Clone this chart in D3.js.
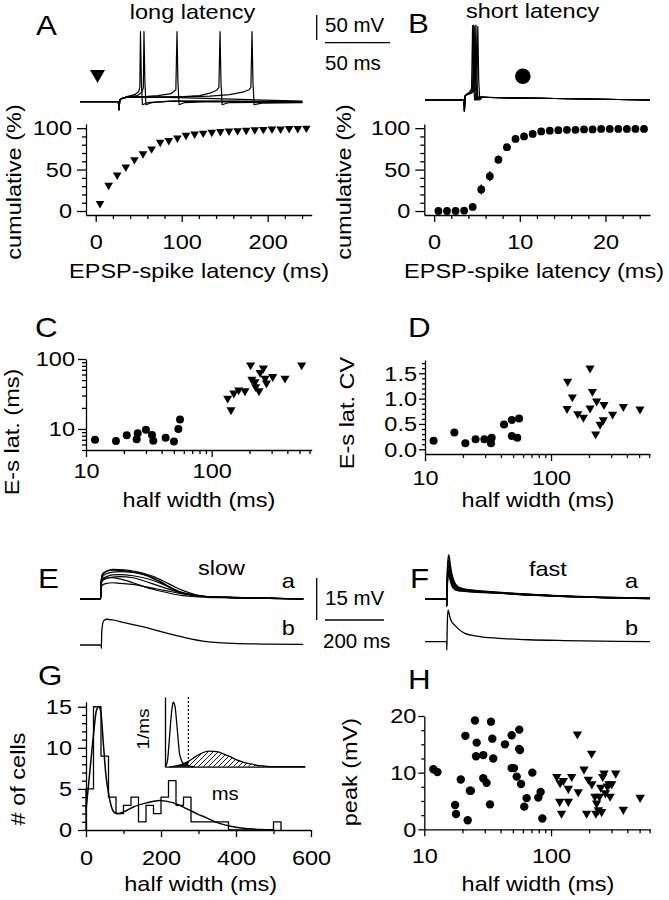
<!DOCTYPE html>
<html><head><meta charset="utf-8">
<script src="https://cdn.jsdelivr.net/npm/d3@7"></script>
<style>
body{margin:0;background:#fff}
svg{display:block;background:#fff}
text{font-family:"Liberation Sans",Arial,Helvetica,sans-serif;fill:#000}
</style></head>
<body><svg id="c" width="669" height="900"></svg>
<script>
// ---------------- DATA ----------------
// A: cumulative EPSP-spike latency, long-latency cells
const latA_x = [5,15,25,35,45,55,65,75,85,95,105,115,125,135,145,155,165,175,185,195,205,215,225,235,245];
const latA_y = [9,31,43.5,53,62,69,75,83,85,88,91.5,93,94,95,96,96.5,97,97.5,98,98.5,99,99,99.5,99.5,100];
// B: cumulative latency, short-latency cells
const latB_x = [0.5,1.5,2.5,3.5,4.5,5.5,6.5,7.5,8.5,9.5,10.5,11.5,12.5,13.5,14.5,15.5,16.5,17.5,18.5,19.5,20.5,21.5,22.5,23.5,24.5];
const latB_y = [0,0,0,0.5,5,26,42,62,77,87,90,93,96,97,97.5,98,98,98.5,98.5,99,99,99,99,99,99];
const latB_err = [0,0,0,0,1,6,6,5,4,2,1,1,0,0,0,0,0,0,0,0,0,0,0,0,0];
// C: E-s latency vs half width
const cFastX = [11.8,17.3,21.1,25.3,25.8,30,33.5,34.3,43,50.1,54.3,56];
const cFastY = [7.0,6.7,8.1,7.1,8.7,9.7,8.2,6.8,7.5,6.6,10,13.6];
const cSlowX = [134,142.5,150,164,184,204,209,221,224,238,243,258,266,273,306,383,520];
const cSlowY = [27.4,18.7,32.4,36,35,82,51,47,40,35,64,74,53,45,56,53,82];
// D: E-s latency CV vs half width
const dFastX = [11.7,17.1,20.9,25.2,29.6,33.4,33.8,42.4,48.8,48.8,54,55.8];
const dFastY = [0.17,0.33,0.12,0.2,0.2,0.12,0.23,0.49,0.58,0.26,0.23,0.61];
const dSlowX = [135.5,147.6,134,163,180.7,204,213,204,230,226,245,260,263,308,375,508];
const dSlowY = [1.34,1.03,0.80,0.70,0.63,1.60,1.14,0.81,0.95,0.30,0.49,0.58,0.88,0.69,0.84,0.79];
// G: histogram of half widths (20 ms bins) and fitted curve
const histBins = [0,20,40,60,80,100,120,140,160,180,200,220,240,260,280,300,320,340,360,380,400,420,440,460,480,500,520];
const histCounts = [5,15,9,4,2,3,4,1,3,2,4,6,3,4,1,1,1,1,1,0,0,0,0,0,0,1];
const gCurveX = [0,10,20,28,34,40,46,53,61,68,77,86,100,126,162,197,233,268,295,320,350,400,450,500];
const gCurveY = [2.4,7,11.6,14.6,15,14.2,10.7,6.7,4.2,2.8,2.1,2.0,2.2,2.8,3.3,3.6,3.3,2.6,2.0,1.5,0.9,0.33,0.1,0.02];
// G inset: normalised densities (1/ms)
const insNarrowX = [0,5,12,19,25,30,34,37,41,46,50,55,60,64,70,74,82,89,104,130];
const insNarrowY = [0,0.02,0.12,0.41,0.68,0.87,0.97,1.0,0.98,0.9,0.76,0.56,0.36,0.22,0.13,0.09,0.05,0.03,0.01,0];
const insBroadX = [20,37,60,80,104,141,170,200,230,260,290,319,350,379,410,438,483,623];
const insBroadY = [0,0.005,0.02,0.045,0.083,0.167,0.22,0.24,0.232,0.2,0.155,0.105,0.068,0.042,0.022,0.011,0,0];
const insThreshold = [104];
// H: peak vs half width
const hFastX = [11.8,12.7,17.5,17.8,19.4,21.1,22,22.9,23.3,25.1,25.9,25.6,29.2,29.2,31,33,33.6,34.4,35,43.3,48.9,48.9,51,53.6,56.2,56,56.9,58,61.5,64.2,71.2,79.4,82.8,85.4];
const hFastY = [10.6,10.1,4.3,2.7,8.8,16.5,1.6,6.8,6.8,19.2,15.3,12.9,13.1,9,8.2,4.4,19,16,12.5,15,16.6,10.8,10.8,9.3,17.6,14.2,14,8,4,5.5,10,5.6,6.6,1.9];
const hSlowX = [111,118,117,121,125,137,137,145.6,164,161.5,182,191,197,209,210,222,229,236.5,226,241,247,256,262,268.5,278.5,287,301,292.5,324,251,372,505];
const hSlowY = [9.3,8.2,4.9,2.8,8.6,4.9,7.2,9.3,6.6,16.8,10.6,2.8,8.8,13.4,8,5.8,4.6,3.4,2.8,5.8,7.4,9.3,9.9,6.4,7.6,8,8,5.8,9.9,3.1,3.5,5.6];
// A (top): example traces, [time ms, Vm mV]
const tracesA = [
 [[0,-70],[29.5,-70],[30,-86],[30.6,-66],[32,-64],[36,-61],[45,-60],[60,-61],[90,-63],[130,-66],[171,-69]],
 [[0,-70],[29.5,-70],[30,-86],[30.6,-66],[32,-64],[36,-60],[42,-56],[45,-50],[46,-42],[46.5,70],[47.2,-30],[48,-76],[52,-72],[70,-69],[120,-69],[171,-70]],
 [[0,-70],[29.5,-70],[30,-86],[30.6,-66],[32,-64],[36,-61],[44,-58],[47.5,-51],[48.7,-42],[49.2,70],[49.9,-30],[50.7,-76],[55,-72],[70,-69],[171,-70]],
 [[0,-70],[29.5,-70],[30,-86],[30.6,-66],[32,-64],[36,-61],[50,-60],[60,-58],[70,-54],[73.7,-46],[74.6,70],[75.3,-30],[76.2,-76],[80,-72],[100,-70],[171,-71]],
 [[0,-70],[29.5,-70],[30,-86],[30.6,-66],[32,-64],[36,-61],[60,-61],[80,-60],[92,-58],[100,-53],[105,-47],[106.8,-42],[107.7,70],[108.4,-30],[109.3,-76],[114,-72],[140,-71],[171,-71]],
 [[0,-70],[29.5,-70],[30,-86],[30.6,-66],[32,-64],[36,-61],[70,-61],[100,-59],[115,-56],[125,-51],[130,-46],[131.4,-42],[132.3,70],[133,-30],[133.9,-76],[140,-73],[171,-72]]
];
const tracesB = [
 [[0,-70],[30,-70],[30.3,-92],[30.8,-62],[32,-58],[34,-55],[35.8,-47],[36.6,79],[37.3,-30],[38.1,-70],[40,-64],[50,-65],[100,-67],[173,-70]],
 [[0,-70],[30,-70],[30.3,-92],[30.8,-62],[32,-59],[34.5,-55],[36.6,-47],[37.4,80],[38.1,-30],[38.9,-70],[41,-64],[50,-65],[100,-67],[173,-70]],
 [[0,-70],[30,-70],[30.3,-92],[30.8,-62],[32,-59],[35,-56],[37.5,-47],[38.3,78],[39,-30],[39.8,-70],[42,-64],[50,-65],[100,-67],[173,-70]],
 [[0,-70],[30,-70],[30.3,-92],[30.8,-62],[32,-60],[36,-55],[38.4,-47],[39.2,80],[39.9,-30],[40.7,-70],[43,-64],[50,-65],[100,-67],[173,-70]],
 [[0,-70],[30,-70],[30.3,-92],[30.8,-62],[32,-60],[36,-56],[39.8,-47],[40.6,77],[41.3,-30],[42.1,-70],[44,-64],[55,-65],[100,-67],[173,-70]]
];
// E / F: EPSPs (mV above rest) at shared time points (ms)
const eTime = [0,70,71.5,76,90,110,135,180,215,250,290,320,350,390,430,520,640,757];
const eSlow = [
 [0,0,6,9,10,10.6,10.5,10,9.2,8,6,4.4,3,1.6,0.9,0.5,0.2,0],
 [0,0,6,8.5,9.8,10.3,10.2,9.6,9,7.5,5.2,3.5,2.2,1.2,0.8,0.6,0.2,0],
 [0,0,5.5,8,9,9.6,9.8,9.5,8.7,7.2,5,3.2,2,1.2,0.8,0.5,0.3,0],
 [0,0,5,7.3,8,8.6,8.7,8.3,7.6,6.5,4.8,3.3,2.2,1.3,0.8,0.4,0.2,0],
 [0,0,4.5,6.5,7.3,7.8,8,7.6,6.5,5.3,3.9,2.9,2,1.3,0.9,0.6,0.3,0],
 [0,0,3.5,5,5.6,5.8,5.6,5.2,4.5,3.8,3,2.4,1.8,1.3,0.9,0.5,0.3,0],
 [0,0,5,7,7.5,7.6,7.2,5.8,4.5,3.4,2.4,1.7,1.2,0.8,0.6,0.4,0.2,0]
];
const eModelT = [0,72,72.5,73.5,76,80,90,110,150,200,250,294,350,430,520,640,757];
const eModelV = [0,0,-1.2,4,7,8.6,9.2,9,8,6.8,5.5,4.2,2.8,1.2,0.6,0.3,0.2];
const fTime = [0,73.5,74,75.5,78,81,86,92,100,110,125,150,200,260,350,470,600,763];
const fFast = [
 [0,0,-2.5,8,14,15.7,12,8.5,6,4.6,3.8,3.3,2.8,2.3,1.7,1.1,0.6,0.3],
 [0,0,-2.5,7,12.5,13.9,10.5,7.5,5.5,4.2,3.5,3.1,2.7,2.2,1.6,1.0,0.6,0.3],
 [0,0,-2.5,6,11,12.1,9.2,6.6,4.8,3.8,3.3,3.0,2.6,2.2,1.6,1.0,0.5,0.2],
 [0,0,-2.5,5,9.5,10.4,8.0,5.8,4.4,3.6,3.2,2.9,2.5,2.1,1.5,1.0,0.5,0.2],
 [0,0,-2.5,5,9,10,7.2,5,3.8,3.3,3,2.8,2.4,2,1.5,1,0.5,0.3],
 [0,0,-2.5,4.5,8,9,6.5,4.5,3.5,3,2.8,2.6,2.3,2,1.4,0.9,0.5,0.2]
];
const fModelT = [0,73.5,74,75.5,78,80,84,90,100,115,135,170,250,350,470,600,763];
const fModelV = [0,0,-3,6,11.3,10.8,9,7.2,6,4.4,3,2.1,1.2,0.7,0.4,0.2,0];

// ---------------- DRAWING ----------------
const svg = d3.select("#c");
const SX = 1.12;
function T(x, y, s, o = {}) {
  return svg.append("text")
    .attr("transform", `translate(${x},${y})` + (o.rot ? " rotate(-90)" : "") + ` scale(${o.sx ?? SX},1)`)
    .style("font-size", (o.fs || 21) + "px")
    .attr("text-anchor", o.anchor || "start").text(s);
}
function styl(g) {
  g.attr("font-size", null).attr("font-family", null);
  g.selectAll("path,line").attr("stroke", "#000").attr("stroke-width", 1.3);
}
function drawAxis(orient, scale, pos, major, minor, fmt, majLen, minLen, pad) {
  const mk = orient === "b" ? d3.axisBottom : d3.axisLeft;
  const tr = orient === "b" ? `translate(0,${pos})` : `translate(${pos},0)`;
  if (minor && minor.length) {
    const gm = svg.append("g").attr("transform", tr).call(mk(scale).tickValues(minor).tickSize(minLen).tickFormat(""));
    gm.select(".domain").remove(); gm.selectAll("text").remove(); styl(gm);
  }
  const ga = svg.append("g").attr("transform", tr)
    .call(mk(scale).tickValues(major).tickSize(majLen).tickSizeOuter(0).tickPadding(pad).tickFormat(fmt || (d => d)));
  styl(ga);
  ga.selectAll(".tick text").each(function () {
    const t = d3.select(this);
    const x = +(t.attr("x") || 0), y = +(t.attr("y") || 0);
    t.attr("x", null).attr("y", null)
      .attr("transform", `translate(${x},${y}) scale(${SX},1)`).style("font-size", "21px");
  });
  return ga;
}
function circles(xs, ys, X, Y, r) {
  svg.append("g").selectAll("circle").data(X.map((x, i) => [x, Y[i]])).join("circle")
    .attr("cx", d => xs(d[0])).attr("cy", d => ys(d[1])).attr("r", r).attr("fill", "#000");
}
function tris(xs, ys, X, Y, size) {
  const sym = d3.symbol(d3.symbolTriangle, size);
  svg.append("g").selectAll("path").data(X.map((x, i) => [x, Y[i]])).join("path")
    .attr("d", sym).attr("fill", "#000")
    .attr("transform", d => `translate(${xs(d[0])},${ys(d[1])}) rotate(180)`);
}
function trace(pts, xs, ys, w, curve) {
  svg.append("path").datum(pts)
    .attr("d", d3.line().x(d => xs(d[0])).y(d => ys(d[1])).curve(curve || d3.curveLinear))
    .attr("fill", "none").attr("stroke", "#000").attr("stroke-width", w).attr("stroke-linejoin", "round");
}
const minorLog = [20,30,40,50,60,70,80,90,200,300,400,500,600];

// ===== Panel A top =====
const xTA = d3.scaleLinear().domain([0, 171.5]).range([80, 303]);
const yTA = d3.scaleLinear().domain([-70, 70]).range([101.7, 31.7]);
tracesA.forEach(t => trace(t, xTA, yTA, 1.2));
svg.append("path").attr("d", d3.symbol(d3.symbolTriangle, 97)).attr("fill", "#000")
  .attr("transform", "translate(97.5,74.3) rotate(180)");
T(36, 35, "A", { fs: 28 });
T(192.5, 18.5, "long latency", { anchor: "middle" });
// scale bars (A/B)
svg.append("line").attr("x1", 316.7).attr("x2", 316.7).attr("y1", 15).attr("y2", 15 + (yTA(-70) - yTA(-20)))
  .attr("stroke", "#000").attr("stroke-width", 1.3);
svg.append("line").attr("x1", 325).attr("x2", 325 + (xTA(50) - xTA(0))).attr("y1", 42.7).attr("y2", 42.7)
  .attr("stroke", "#000").attr("stroke-width", 1.3);
T(325, 31.7, "50 mV", { sx: 1, fs: 20.5 });
T(325, 70, "50 ms", { sx: 1, fs: 20.5 });

// ===== Panel B top =====
const xTB = d3.scaleLinear().domain([0, 173]).range([425, 650]);
const yTB = d3.scaleLinear().domain([-70, 80]).range([100, 25]);
tracesB.forEach(t => trace(t, xTB, yTB, 1.2));
svg.append("circle").attr("cx", 522.8).attr("cy", 76.2).attr("r", 7.8).attr("fill", "#000");
T(408, 33.3, "B", { fs: 28 });
T(532.5, 18, "short latency", { anchor: "middle" });

// ===== Panel A cumulative =====
const xA = d3.scaleLinear().domain([-11.3, 251.2]).range([86, 311.7]);
const yCum = d3.scaleLinear().domain([-4.8, 105]).range([215, 124]);
drawAxis("b", xA, 215, [0, 100, 200], [20,40,60,80,120,140,160,180,220,240], null, 7, 4, 12);
drawAxis("l", yCum, 86, [0, 50, 100], [10,20,30,40,60,70,80,90], null, 9, 4, 5);
tris(xA, yCum, latA_x, latA_y, 32);
T(199, 278, "EPSP-spike latency (ms)", { anchor: "middle" });
T(21, 182, "cumulative (%)", { anchor: "middle", rot: true });

// ===== Panel B cumulative =====
const xB = d3.scaleLinear().domain([-1.15, 25.2]).range([424.3, 650]);
drawAxis("b", xB, 215, [0, 10, 20], [2,4,6,8,12,14,16,18,22,24], null, 7, 4, 12);
drawAxis("l", yCum, 424.3, [0, 50, 100], [10,20,30,40,60,70,80,90], null, 9, 4, 5);
svg.append("g").selectAll("line").data(latB_x.map((x, i) => [x, latB_y[i], latB_err[i]]).filter(d => d[2] > 0)).join("line")
  .attr("x1", d => xB(d[0])).attr("x2", d => xB(d[0]))
  .attr("y1", d => yCum(d[1] - d[2])).attr("y2", d => yCum(d[1] + d[2]))
  .attr("stroke", "#000").attr("stroke-width", 1.5);
circles(xB, yCum, latB_x, latB_y, 3.9);
T(534, 278, "EPSP-spike latency (ms)", { anchor: "middle" });
T(351, 182, "cumulative (%)", { anchor: "middle", rot: true });

// ===== Panel C =====
const xC = d3.scaleLog().domain([10, 625]).range([86, 311.7]);
const yC = d3.scaleLog().domain([5, 100]).range([450, 359]);
drawAxis("b", xC, 450, [10, 100], minorLog, null, 7, 4, 6);
drawAxis("l", yC, 86, [10, 100], [5,6,7,8,9,20,30,40,50,60,70,80,90], null, 8, 4, 3);
circles(xC, yC, cFastX, cFastY, 4);
tris(xC, yC, cSlowX, cSlowY, 36);
T(35, 337, "C", { fs: 28 });
T(199, 506.7, "half width (ms)", { anchor: "middle" });
T(18.5, 432, "E-s lat. (ms)", { anchor: "middle", rot: true });

// ===== Panel D =====
const xD = d3.scaleLog().domain([10, 610]).range([425, 650]);
const yD = d3.scaleLinear().domain([-0.093, 1.762]).range([454, 360]);
drawAxis("b", xD, 454, [10, 100], minorLog, null, 7, 4, 9);
drawAxis("l", yD, 425, [0, 0.5, 1, 1.5], [0.1,0.2,0.3,0.4,0.6,0.7,0.8,0.9,1.1,1.2,1.3,1.4,1.6,1.7], d3.format(".1f"), 6, 3, 2);
circles(xD, yD, dFastX, dFastY, 4);
tris(xD, yD, dSlowX, dSlowY, 36);
T(408, 337, "D", { fs: 28 });
T(538, 506.7, "half width (ms)", { anchor: "middle" });
T(354, 413, "E-s lat. CV", { anchor: "middle", rot: true });

// ===== Panel E =====
const xTE = d3.scaleLinear().domain([0, 756]).range([80, 303]);
const yTEa = d3.scaleLinear().domain([0, 15]).range([599, 557]);
const yTEb = d3.scaleLinear().domain([0, 15]).range([645, 603]);
eSlow.forEach(v => trace(eTime.map((t, i) => [t, v[i]]), xTE, yTEa, 1.2, d3.curveMonotoneX));
trace(eModelT.map((t, i) => [t, eModelV[i]]), xTE, yTEb, 1.3, d3.curveMonotoneX);
T(38, 588, "E", { fs: 28 });
T(198, 575, "slow");
T(281.7, 588, "a");
T(281.7, 635, "b");
svg.append("line").attr("x1", 316.7).attr("x2", 316.7).attr("y1", 578).attr("y2", 578 + (yTEa(0) - yTEa(15)))
  .attr("stroke", "#000").attr("stroke-width", 1.3);
svg.append("line").attr("x1", 325).attr("x2", 325 + (xTE(200) - xTE(0))).attr("y1", 620).attr("y2", 620)
  .attr("stroke", "#000").attr("stroke-width", 1.3);
T(325, 605, "15 mV", { sx: 1, fs: 20.5 });
T(323, 648, "200 ms", { sx: 1, fs: 20.5 });

// ===== Panel F =====
const xTF = d3.scaleLinear().domain([0, 763]).range([425, 650]);
const yTFa = d3.scaleLinear().domain([0, 15]).range([599, 557]);
const yTFb = d3.scaleLinear().domain([0, 15]).range([641.7, 599.7]);
fFast.forEach(v => trace(fTime.map((t, i) => [t, v[i]]), xTF, yTFa, 1.4, d3.curveMonotoneX));
trace(fModelT.map((t, i) => [t, fModelV[i]]), xTF, yTFb, 1.3, d3.curveMonotoneX);
T(410, 588, "F", { fs: 28 });
T(529, 576, "fast");
T(625, 588, "a");
T(625, 635, "b");

// ===== Panel G =====
const xG = d3.scaleLinear().domain([0, 600]).range([86, 311]);
const yG = d3.scaleLinear().domain([0, 15.6]).range([830, 701.8]);
drawAxis("b", xG, 830, [0, 200, 400, 600], [100, 300, 500], null, 7, 4, 13);
drawAxis("l", yG, 86, [0, 5, 10, 15], [1,2,3,4,6,7,8,9,11,12,13,14], null, 8, 4, 6);
{
  const pts = [[histBins[0], 0]];
  histCounts.forEach((c, i) => { pts.push([histBins[i], c]); pts.push([histBins[i + 1], c]); });
  pts.push([histBins[histBins.length - 1], 0]);
  trace(pts, xG, yG, 1.3);
}
trace(gCurveX.map((x, i) => [x, gCurveY[i]]), xG, yG, 1.5, d3.curveMonotoneX);
T(38, 685, "G", { fs: 28 });
T(200.7, 891, "half width (ms)", { anchor: "middle" });
T(25, 779, "# of cells", { anchor: "middle", rot: true });
T(211.7, 800, "ms", { fs: 18 });
// inset
const xI = d3.scaleLinear().domain([0, 623]).range([165, 305]);
const yI = d3.scaleLinear().domain([0, 1.08]).range([766.7, 697]);
const defs = svg.append("defs");
const pat = defs.append("pattern").attr("id", "hatch").attr("patternUnits", "userSpaceOnUse").attr("width", 5).attr("height", 5);
pat.append("path").attr("d", "M-1,1 l2,-2 M0,5 l5,-5 M4,6 l2,-2").attr("stroke", "#000").attr("stroke-width", 0.9);
defs.append("clipPath").attr("id", "cl").append("rect").attr("x", 160).attr("y", 690).attr("width", xI(insThreshold[0]) - 160).attr("height", 80);
defs.append("clipPath").attr("id", "cr").append("rect").attr("x", xI(insThreshold[0])).attr("y", 690).attr("width", 150).attr("height", 80);
const broadPts = insBroadX.map((x, i) => [x, insBroadY[i]]);
const areaB = d3.area().x(d => xI(d[0])).y0(yI(0)).y1(d => yI(d[1])).curve(d3.curveMonotoneX);
svg.append("path").datum(broadPts).attr("d", areaB).attr("fill", "#000").attr("clip-path", "url(#cl)");
svg.append("path").datum(broadPts).attr("d", areaB).attr("fill", "url(#hatch)").attr("clip-path", "url(#cr)");
trace(broadPts, xI, yI, 1.3, d3.curveMonotoneX);
trace(insNarrowX.map((x, i) => [x, insNarrowY[i]]), xI, yI, 1.3, d3.curveMonotoneX);
{
  const gx = svg.append("g").attr("transform", `translate(0,${yI(0)})`).call(d3.axisBottom(xI).tickValues([]).tickSizeOuter(0));
  styl(gx);
  const gy = svg.append("g").attr("transform", `translate(${xI(0)},0)`).call(d3.axisLeft(yI).tickValues([]).tickSizeOuter(0));
  styl(gy);
}
svg.append("line").attr("x1", xI(insThreshold[0])).attr("x2", xI(insThreshold[0])).attr("y1", 697).attr("y2", yI(0))
  .attr("stroke", "#000").attr("stroke-width", 1.2).attr("stroke-dasharray", "2,2");
T(149, 729, "1/ms", { anchor: "middle", rot: true, fs: 17 });

// ===== Panel H =====
const xH = d3.scaleLog().domain([10, 604]).range([424.3, 650]);
const yH = d3.scaleLinear().domain([0, 20]).range([829.3, 716]);
drawAxis("b", xH, 829.3, [10, 100], minorLog, null, 7, 4, 12);
drawAxis("l", yH, 424.3, [0, 10, 20], [2.5, 5, 7.5, 12.5, 15, 17.5], null, 6, 3, 2);
circles(xH, yH, hFastX, hFastY, 4.2);
tris(xH, yH, hSlowX, hSlowY, 38);
T(408, 689, "H", { fs: 28 });
T(538, 891, "half width (ms)", { anchor: "middle" });
T(357, 772, "peak (mV)", { anchor: "middle", rot: true });
</script></body></html>
